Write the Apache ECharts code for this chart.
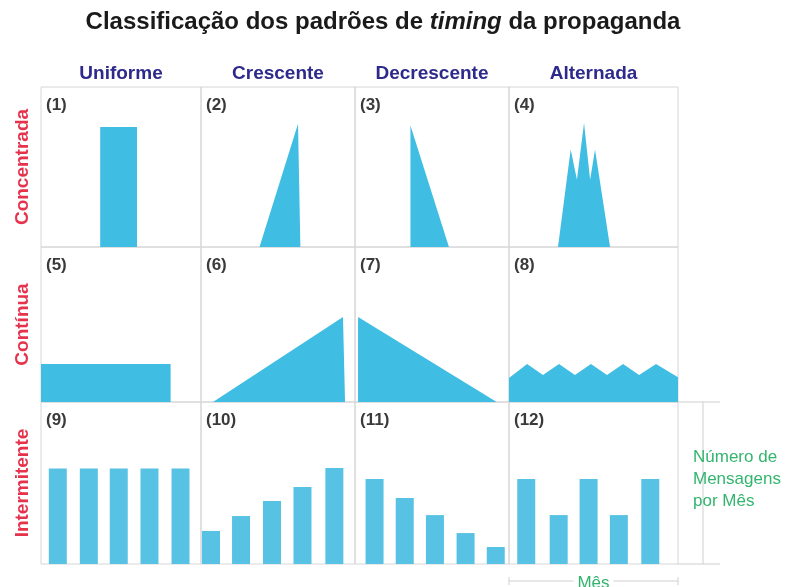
<!DOCTYPE html>
<html>
<head>
<meta charset="utf-8">
<script src="https://cdn.jsdelivr.net/npm/echarts@6/dist/echarts.min.js"></script>
<style>
html, body { margin:0; padding:0; background:#fff; }
#chart_panel { width:792px; height:587px; }
</style>
</head>
<body>
<div id="chart_panel"></div>
<script>
var colNames = ['Uniforme', 'Crescente', 'Decrescente', 'Alternada'];
var rowNames = ['Concentrada', 'Contínua', 'Intermitente'];
var cellLabels = ['(1)','(2)','(3)','(4)','(5)','(6)','(7)','(8)','(9)','(10)','(11)','(12)'];

// formas (x = % do mês, y = % da altura)
var shape1 = [[37,0],[37,75],[60,75],[60,0]];
var shape2 = [[38,0],[63,77],[64.5,1.5]];
var shape3 = [[36,0],[36,76],[61,0]];
var shape4 = [[29,0],[36.5,61],[40.2,42],[44.4,77.5],[48,42],[50.9,61],[59.8,0]];
var shape5 = [[0,24.5],[81,24.5],[81,0]];
var shape6 = [[7.8,0],[92.2,54.8],[93.5,1.3]];
var shape7 = [[2,0],[2,54.8],[92,0]];
var shape8 = [[0,15.5],[10.7,24.5],[20.1,17.4],[29.6,24.5],[39,17.4],[48.5,24.5],[58,17.4],[67.5,24.5],[77,17.4],[87,24.5],[100,16]];

// barras intermitentes
var months9 = [10.5, 29.9, 48.6, 67.8, 87.2];
var values9 = [59, 59, 59, 59, 59];
var months10 = [6.5, 26, 46.1, 65.9, 86.6];
var values10 = [20.4, 29.6, 38.9, 47.5, 59.3];
var months11 = [12.7, 32.3, 51.9, 71.8, 91.4];
var values11 = [52.5, 40.7, 30.2, 19.1, 10.5];
var months12 = [10.2, 29.4, 47.1, 65, 83.6];
var values12 = [52.5, 30.2, 52.5, 30.2, 52.5];

var colX = [41, 201, 355, 509, 678];
var rowY = [87, 247, 402, 564];

var shapeColor = '#3fbde2';
var barColor = '#58c2e4';

var myChart = echarts.init(document.getElementById('chart_panel'));

function pairs(xs, ys){
	var out = [];
	for(var i=0; i<xs.length; i++){
		out.push([xs[i], ys[i]]);
	}
	return out;
}

var cellData = [
	shape1, shape2, shape3, shape4,
	shape5, shape6, shape7, shape8,
	pairs(months9, values9), pairs(months10, values10), pairs(months11, values11), pairs(months12, values12)
];

var grids = [], xAxes = [], yAxes = [], series = [], graphics = [];

for(var r=0; r<3; r++){
	for(var c=0; c<4; c++){
		var k = r*4 + c;
		grids.push({
			left: colX[c],
			top: rowY[r],
			width: colX[c+1] - colX[c],
			height: rowY[r+1] - rowY[r],
			show: true,
			borderColor: '#d6d6d6',
			borderWidth: 1,
			backgroundColor: 'transparent'
		});
		xAxes.push({
			gridIndex: k,
			type: 'value',
			min: 0,
			max: 100,
			position: 'top',
			name: r == 0 ? colNames[c] : '',
			nameLocation: 'middle',
			nameGap: 4,
			nameTextStyle: {color:'#2e2a8c', fontSize:19, fontWeight:'bold', fontFamily:'Liberation Sans'},
			axisLine: {show:false},
			axisTick: {show:false},
			axisLabel: {show:false},
			splitLine: {show:false}
		});
		yAxes.push({
			gridIndex: k,
			type: 'value',
			min: 0,
			max: 100,
			name: c == 0 ? rowNames[r] : '',
			nameLocation: 'middle',
			nameRotate: 90,
			nameGap: 9,
			nameTextStyle: {color:'#e6334c', fontSize:19, fontWeight:'bold', fontFamily:'Liberation Sans'},
			axisLine: {show:false},
			axisTick: {show:false},
			axisLabel: {show:false},
			splitLine: {show:false}
		});
		if(r < 2){
			series.push({
				type: 'line',
				xAxisIndex: k,
				yAxisIndex: k,
				data: cellData[k],
				symbol: 'none',
				silent: true,
				lineStyle: {width:0, color:shapeColor},
				areaStyle: {color:shapeColor, opacity:1}
			});
		}else{
			series.push({
				type: 'bar',
				xAxisIndex: k,
				yAxisIndex: k,
				data: cellData[k],
				barWidth: 18,
				silent: true,
				itemStyle: {color:barColor}
			});
		}
		graphics.push({
			type: 'text',
			left: colX[c] + 5,
			top: rowY[r] + 10,
			style: {text:cellLabels[k], fill:'#3a3a3a', font:'bold 17px "Liberation Sans"'}
		});
	}
}

// escala de mensagens / mês à direita
var annColor = '#cfcfcf';
graphics.push(
	{type:'line', shape:{x1:colX[4], y1:rowY[2], x2:720, y2:rowY[2]}, style:{stroke:annColor, lineWidth:1}},
	{type:'line', shape:{x1:colX[4], y1:rowY[3], x2:720, y2:rowY[3]}, style:{stroke:annColor, lineWidth:1}},
	{type:'line', shape:{x1:703, y1:rowY[2], x2:703, y2:rowY[3]}, style:{stroke:annColor, lineWidth:1}},
	{type:'text', left:693, top:446, style:{text:'Número de\nMensagens\npor Mês', fill:'#33b56e', font:'17px "Liberation Sans"', lineHeight:22}},
	{type:'line', shape:{x1:colX[3], y1:581, x2:colX[4], y2:581}, style:{stroke:annColor, lineWidth:1}},
	{type:'line', shape:{x1:colX[3], y1:577, x2:colX[3], y2:585}, style:{stroke:annColor, lineWidth:1}},
	{type:'line', shape:{x1:colX[4], y1:577, x2:colX[4], y2:585}, style:{stroke:annColor, lineWidth:1}},
	{type:'text', x:(colX[3]+colX[4])/2, y:575, style:{text:'Mês', fill:'#33b56e', font:'17px "Liberation Sans"', align:'center', backgroundColor:'#fff', padding:[0,4]}}
);

var option = {
	animation: false,
	title: {
		text: 'Classificação dos padrões de {i|timing} da propaganda',
		left: 378,
		textAlign: 'center',
		top: 5,
		textStyle: {
			color: '#1a1a1a',
			fontSize: 24,
			fontWeight: 'bold',
			fontFamily: 'Liberation Sans',
			rich: {
				i: {fontSize:24, fontWeight:'bold', fontStyle:'italic', fontFamily:'Liberation Sans', color:'#1a1a1a'}
			}
		}
	},
	grid: grids,
	xAxis: xAxes,
	yAxis: yAxes,
	series: series,
	graphic: graphics
};

myChart.setOption(option);
</script>
</body>
</html>
